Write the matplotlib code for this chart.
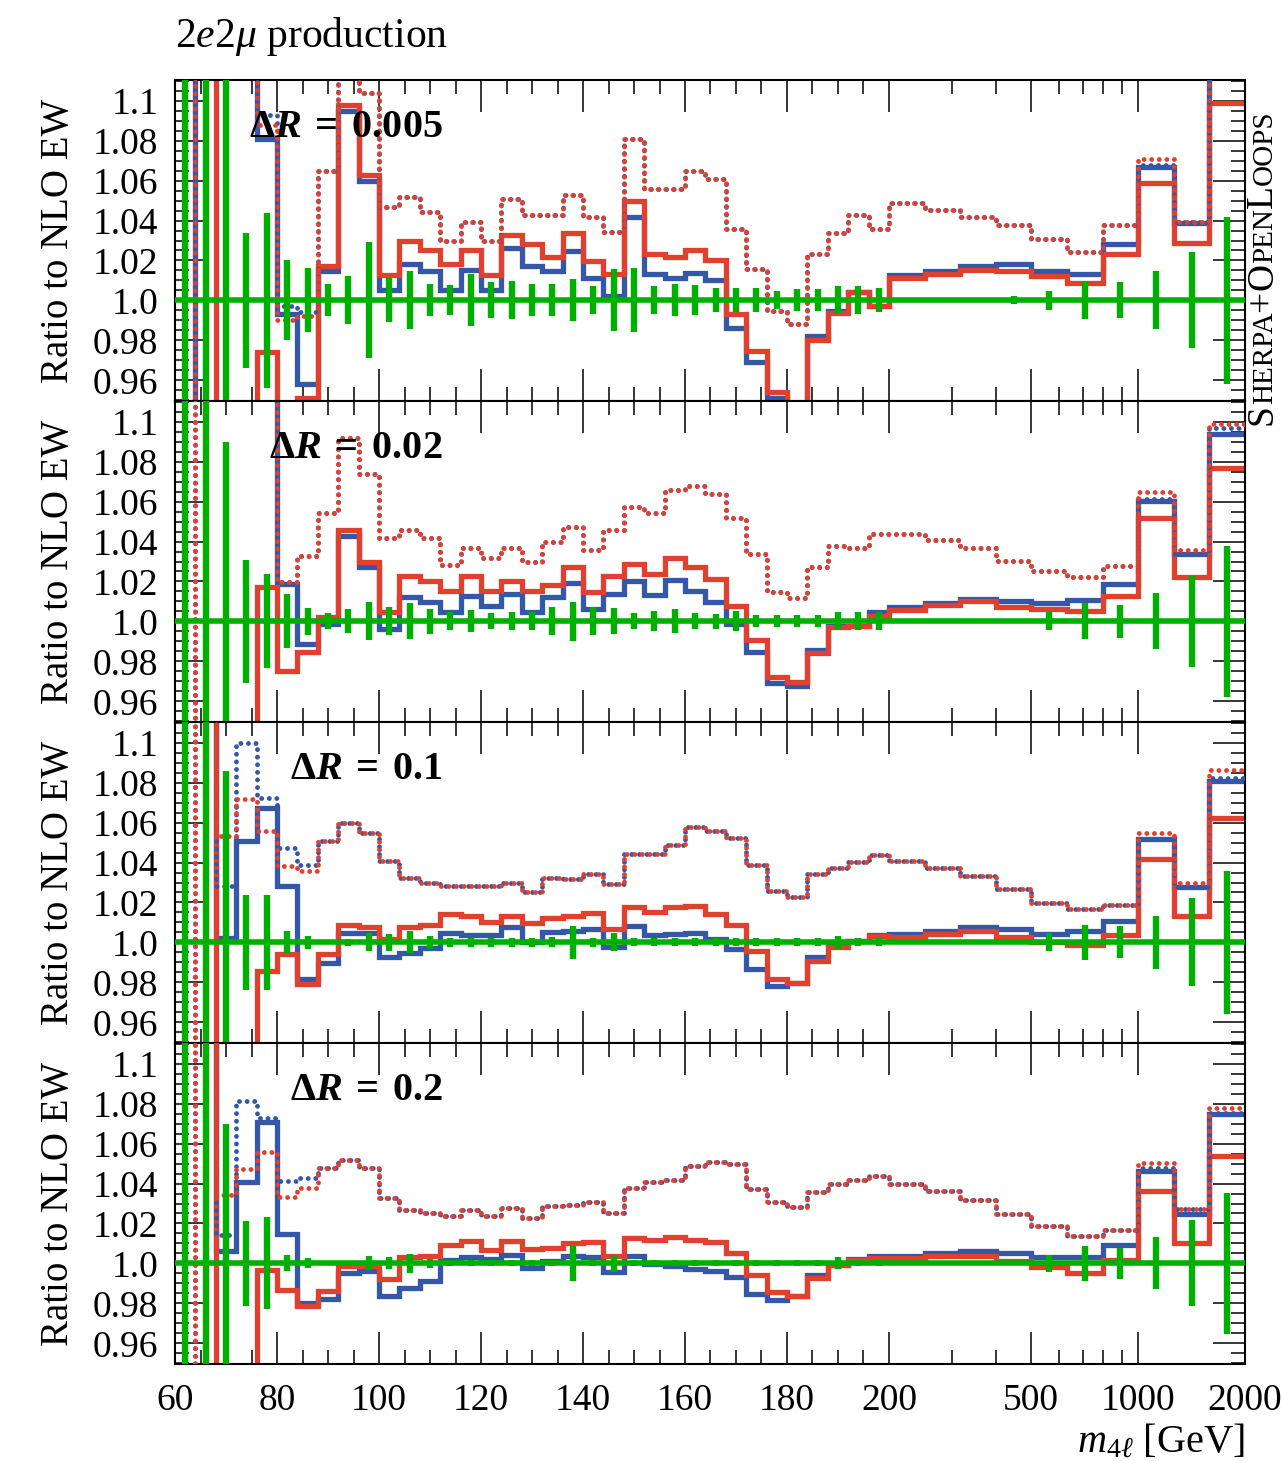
import numpy as np
import matplotlib
matplotlib.use("Agg")
import matplotlib.pyplot as plt
from matplotlib.ticker import FixedLocator, FixedFormatter, MultipleLocator, NullFormatter

plt.rcParams['font.family'] = ['Liberation Serif', 'DejaVu Serif']
plt.rcParams['mathtext.fontset'] = 'custom'
plt.rcParams['mathtext.rm'] = 'Liberation Serif'
plt.rcParams['mathtext.it'] = 'Liberation Serif:italic'
plt.rcParams['mathtext.bf'] = 'Liberation Serif:bold'
plt.rcParams['mathtext.bfit'] = 'Liberation Serif:italic:bold'

# bin edges: 4 GeV bins up to 200, then 10 log bins up to 2000
edges = np.concatenate([np.arange(60, 200, 4), 200 * 10 ** (np.arange(0, 11) / 10)])

labels = [r"$\mathbf{\Delta}\mathbfit{R}\;\mathbf{=}\;\mathbf{0.005}$",
          r"$\mathbf{\Delta}\mathbfit{R}\;\mathbf{=}\;\mathbf{0.02}$",
          r"$\mathbf{\Delta}\mathbfit{R}\;\mathbf{=}\;\mathbf{0.1}$",
          r"$\mathbf{\Delta}\mathbfit{R}\;\mathbf{=}\;\mathbf{0.2}$"]

# ---- DeltaR = 0.005
blue1 = [0.7, 1.3, 1.3, 1.3, 1.081, 0.993, 0.958, 1.0145, 1.095, 1.060, 1.005, 1.018, 1.0145, 1.005, 1.015,
         1.005, 1.026, 1.017, 1.0145, 1.0245, 1.011, 1.002, 1.042, 1.013, 1.011, 1.0137, 1.010, 0.986, 0.969,
         0.951, 0.93, 0.982, 0.9945, 1.004, 0.997,
         1.0128, 1.0145, 1.017, 1.018, 1.0145, 1.0133, 1.028, 1.067, 1.039, 1.3]
red1 = [1.3, 1.3, 0.7, 0.7, 0.974, 0.7, 0.951, 1.017, 1.098, 1.063, 1.0125, 1.030, 1.025, 1.018, 1.025,
        1.0125, 1.033, 1.028, 1.0215, 1.034, 1.0195, 1.013, 1.050, 1.023, 1.0215, 1.025, 1.020, 0.993, 0.9745,
        0.954, 0.93, 0.980, 0.9937, 1.004, 0.997,
        1.011, 1.013, 1.0153, 1.0145, 1.012, 1.0087, 1.023, 1.0587, 1.0287, 1.099]
dotb1 = [0.7, 1.3, 1.3, 1.3, 1.093, 0.997, 0.994, 1.065, 1.13, 1.104, 1.047, 1.052, 1.0445, 1.0295, 1.0395,
         1.0295, 1.051, 1.043, 1.043, 1.053, 1.042, 1.0345, 1.081, 1.0557, 1.056, 1.065, 1.0607, 1.0357, 1.0157,
         0.9945, 0.988, 1.023, 1.034, 1.043, 1.036,
         1.0487, 1.0453, 1.042, 1.038, 1.0307, 1.0242, 1.038, 1.068, 1.0395, 1.13]
dotr1 = [0.7, 1.3, 1.3, 1.3, 1.088, 0.990, 0.992, 1.065, 1.13, 1.104, 1.047, 1.052, 1.0445, 1.0295, 1.0395,
         1.0295, 1.051, 1.043, 1.043, 1.053, 1.042, 1.0345, 1.081, 1.0557, 1.056, 1.065, 1.0607, 1.0357, 1.0157,
         0.9945, 0.988, 1.023, 1.034, 1.043, 1.036,
         1.0487, 1.0453, 1.042, 1.038, 1.0307, 1.0242, 1.038, 1.0707, 1.0395, 1.13]
err1 = [0.5, 0.5, 0.3, 0.034, 0.044, 0.020, 0.016, 0.008, 0.012, 0.029, 0.011, 0.0145, 0.008, 0.0075, 0.013,
        0.009, 0.0095, 0.008, 0.008, 0.0105, 0.007, 0.0155, 0.016, 0.007, 0.008, 0.0075, 0.006, 0.006, 0.006,
        0.0045, 0.0055, 0.0055, 0.007, 0.007, 0.006,
        0.001, 0.001, 0.001, 0.002, 0.0048, 0.0095, 0.009, 0.0145, 0.024, 0.042]

# ---- DeltaR = 0.02
blue2 = [1.3, 1.3, 1.3, 1.3, 1.3, 1.0187, 0.9887, 0.9987, 1.0428, 1.027, 0.996, 1.012, 1.0095, 1.0045, 1.0128,
         1.0078, 1.0137, 1.0045, 1.012, 1.019, 1.006, 1.0137, 1.0203, 1.013, 1.0207, 1.0153, 1.0095, 0.9987,
         0.9845, 0.969, 0.9678, 0.9857, 0.9975, 0.9975, 1.0045,
         1.007, 1.009, 1.0112, 1.0103, 1.0092, 1.0108, 1.0187, 1.0603, 1.034, 1.0937]
red2 = [0.7, 0.7, 0.7, 0.7, 1.017, 0.9753, 0.9845, 1.0023, 1.046, 1.0295, 1.0045, 1.0228, 1.0203, 1.0153, 1.0228,
        1.0153, 1.0203, 1.0153, 1.0183, 1.0273, 1.0145, 1.0228, 1.0287, 1.0237, 1.032, 1.0273, 1.0212, 1.0078,
        0.9907, 0.9723, 0.9695, 0.984, 0.997, 0.9975, 1.0028,
        1.0057, 1.0083, 1.01, 1.007, 1.0062, 1.0053, 1.0125, 1.052, 1.0223, 1.077]
dotb2 = [0.7, 1.3, 1.3, 1.3, 1.3, 1.0195, 1.033, 1.0545, 1.092, 1.074, 1.042, 1.046, 1.042, 1.028, 1.037,
         1.032, 1.037, 1.030, 1.040, 1.0475, 1.036, 1.0457, 1.0573, 1.0545, 1.0658, 1.068, 1.0637, 1.052, 1.034,
         1.0145, 1.0117, 1.027, 1.0378, 1.037, 1.044,
         1.0437, 1.0408, 1.037, 1.0303, 1.0253, 1.022, 1.0275, 1.0612, 1.034, 1.097]
dotr2 = [0.7, 1.3, 1.3, 1.3, 1.3, 1.0195, 1.033, 1.0545, 1.092, 1.074, 1.042, 1.046, 1.042, 1.028, 1.037,
         1.032, 1.037, 1.030, 1.040, 1.0475, 1.036, 1.0457, 1.0573, 1.0545, 1.0658, 1.068, 1.0637, 1.052, 1.034,
         1.0145, 1.0117, 1.027, 1.0378, 1.037, 1.044,
         1.0437, 1.0408, 1.037, 1.0303, 1.0253, 1.022, 1.0275, 1.065, 1.0358, 1.099]
err2 = [0.5, 0.5, 0.09, 0.031, 0.0235, 0.0135, 0.0067, 0.004, 0.006, 0.0095, 0.007, 0.009, 0.0063, 0.0045, 0.0055,
        0.004, 0.0045, 0.0045, 0.007, 0.0097, 0.007, 0.0065, 0.004, 0.005, 0.006, 0.004, 0.0037, 0.005, 0.003,
        0.003, 0.003, 0.003, 0.0045, 0.0045, 0.0045,
        0.001, 0.001, 0.001, 0.001, 0.0045, 0.009, 0.0083, 0.014, 0.0228, 0.0378]

# ---- DeltaR = 0.1
blue3 = [1.3, 1.3, 1.002, 1.0508, 1.0675, 1.0283, 0.9817, 0.9895, 1.0045, 1.0045, 0.9925, 0.9945, 0.9972, 1.0045,
         1.0038, 1.0038, 1.0075, 1.0, 1.005, 1.0055, 1.0067, 0.9975, 1.0083, 1.0038, 1.0042, 1.0047, 1.0017,
         0.9967, 0.9867, 0.9783, 0.9795, 0.9928, 0.9988, 1.0008, 1.0038,
         1.0042, 1.0058, 1.0075, 1.0067, 1.0042, 1.0055, 1.0108, 1.0517, 1.0275, 1.0808]
red3 = [1.3, 1.3, 0.7, 0.7, 0.9858, 0.9942, 0.9792, 0.9942, 1.0088, 1.0075, 1.0017, 1.0075, 1.0088, 1.0142, 1.013,
        1.01, 1.0133, 1.0095, 1.0122, 1.0133, 1.0145, 1.0067, 1.0175, 1.015, 1.0175, 1.0183, 1.0142, 1.0088,
        0.9958, 0.9817, 0.9795, 0.9908, 0.9975, 1.0005, 1.0033,
        1.0028, 1.0042, 1.0055, 1.0028, 1.0, 0.9988, 1.0038, 1.0417, 1.0133, 1.0622]
dotb3 = [0.7, 1.3, 1.0283, 1.10, 1.0725, 1.0475, 1.039, 1.051, 1.06, 1.055, 1.041, 1.0325, 1.0295, 1.028, 1.028,
         1.028, 1.03, 1.025, 1.0325, 1.0317, 1.0345, 1.0292, 1.0442, 1.0445, 1.0488, 1.0578, 1.0558, 1.0522,
         1.0388, 1.0258, 1.0228, 1.0345, 1.0375, 1.0405, 1.0438,
         1.0408, 1.0372, 1.0333, 1.0267, 1.0197, 1.0167, 1.0188, 1.0517, 1.0278, 1.0825]
dotr3 = [0.7, 1.3, 1.0533, 1.0717, 1.0558, 1.0383, 1.0358, 1.051, 1.06, 1.055, 1.041, 1.0325, 1.0295, 1.028, 1.028,
         1.028, 1.03, 1.025, 1.0325, 1.0317, 1.0345, 1.0292, 1.0442, 1.0445, 1.0488, 1.0578, 1.0558, 1.0522,
         1.0388, 1.0258, 1.0228, 1.0345, 1.0375, 1.0405, 1.0438,
         1.0408, 1.0372, 1.0333, 1.0267, 1.0197, 1.0167, 1.0188, 1.055, 1.0295, 1.0862]
err3 = [0.5, 0.5, 0.086, 0.0236, 0.0236, 0.0055, 0.0033, 0.001, 0.0017, 0.0045, 0.0043, 0.0055, 0.0033, 0.0023,
        0.0022, 0.0022, 0.0022, 0.0022, 0.0025, 0.0083, 0.0022, 0.0045, 0.002, 0.002, 0.002, 0.002, 0.002, 0.002,
        0.002, 0.002, 0.002, 0.002, 0.0033, 0.002, 0.002,
        0.001, 0.001, 0.001, 0.001, 0.0045, 0.0087, 0.008, 0.0133, 0.022, 0.036]

# ---- DeltaR = 0.2
blue4 = [1.3, 1.3, 1.0063, 1.041, 1.0707, 1.0147, 0.9802, 0.9823, 0.9952, 0.996, 0.9835, 0.9877, 0.991, 1.0018,
         1.003, 1.0023, 1.0043, 0.9975, 1.0013, 1.0035, 1.003, 0.9957, 1.0035, 0.9997, 0.9985, 0.9972, 0.9963,
         0.993, 0.9847, 0.9815, 0.9835, 0.994, 0.999, 1.0023, 1.0035,
         1.0035, 1.0052, 1.0063, 1.0052, 1.003, 1.003, 1.009, 1.0463, 1.0247, 1.0747]
red4 = [1.3, 1.3, 0.7, 0.7, 0.9968, 0.9868, 0.9785, 0.986, 0.9985, 0.9985, 0.9923, 1.003, 1.0035, 1.0093, 1.0113,
        1.0068, 1.011, 1.007, 1.0077, 1.0102, 1.0107, 1.0035, 1.0127, 1.0118, 1.013, 1.0118, 1.0107, 1.0052,
        0.9943, 0.9857, 0.9835, 0.9927, 0.9993, 1.0018, 1.0027,
        1.0027, 1.0035, 1.0035, 1.001, 0.998, 0.9952, 1.0015, 1.0363, 1.0102, 1.054]
dotb4 = [0.7, 1.3, 1.0143, 1.0813, 1.0727, 1.0413, 1.0427, 1.0477, 1.0518, 1.048, 1.0327, 1.0268, 1.0252, 1.0235,
         1.0268, 1.0235, 1.0277, 1.0227, 1.0285, 1.029, 1.0307, 1.0252, 1.038, 1.0407, 1.0418, 1.0488, 1.051,
         1.0497, 1.0372, 1.031, 1.0282, 1.036, 1.0397, 1.0418, 1.0438,
         1.0398, 1.0363, 1.0318, 1.0247, 1.0185, 1.0135, 1.0168, 1.0477, 1.0273, 1.0752]
dotr4 = [0.7, 1.3, 1.0343, 1.0473, 1.0557, 1.0335, 1.038, 1.0477, 1.0518, 1.048, 1.0327, 1.0268, 1.0252, 1.0235,
         1.0268, 1.0235, 1.0277, 1.0227, 1.0285, 1.029, 1.0307, 1.0252, 1.038, 1.0407, 1.0418, 1.0488, 1.051,
         1.0497, 1.0372, 1.031, 1.0282, 1.036, 1.0397, 1.0418, 1.0438,
         1.0398, 1.0363, 1.0318, 1.0247, 1.0185, 1.0135, 1.0168, 1.0502, 1.0273, 1.078]
err4 = [0.5, 0.5, 0.07, 0.0213, 0.023, 0.004, 0.0025, 0.001, 0.001, 0.0035, 0.003, 0.0048, 0.0023, 0.0015, 0.0015,
        0.0015, 0.0015, 0.0015, 0.0015, 0.0086, 0.0015, 0.0043, 0.0015, 0.0015, 0.0015, 0.0015, 0.0015, 0.0015,
        0.0015, 0.0015, 0.0015, 0.0015, 0.003, 0.0015, 0.0015,
        0.001, 0.001, 0.001, 0.001, 0.0043, 0.0086, 0.0078, 0.013, 0.0215, 0.0352]

panels = [(blue1, red1, dotb1, dotr1, err1), (blue2, red2, dotb2, dotr2, err2),
          (blue3, red3, dotb3, dotr3, err3), (blue4, red4, dotb4, dotr4, err4)]

blue = '#3557a7'
red = '#e0412f'
green = '#00b000'

# linear up to 200 GeV, logarithmic above
K = 356 / 5.1
def fwd(x):
    x = np.asarray(x, float)
    return np.where(x <= 200, x, 200 + K * np.log10(np.maximum(x, 1e-9) / 200.))
def inv(y):
    y = np.asarray(y, float)
    return np.where(y <= 200, y, 200 * 10 ** ((np.minimum(y, 1e4) - 200) / K))

centers = inv((fwd(edges[:-1]) + fwd(edges[1:])) / 2)

W, H = 1281, 1461
fig = plt.figure(figsize=(W / 100, H / 100), dpi=100)

xmaj = [60, 80, 100, 120, 140, 160, 180, 200, 500, 1000, 2000]
xmin = [x for x in range(65, 200, 5) if x % 20 != 0] + [300, 400, 600, 700, 800, 900]
yticks = [0.96, 0.98, 1.0, 1.02, 1.04, 1.06, 1.08, 1.1]
ylabs = ["0.96", "0.98", "1.0", "1.02", "1.04", "1.06", "1.08", "1.1"]

for i, (b, r, db, dr, e) in enumerate(panels):
    top = 80 + 321 * i
    ax = fig.add_axes([175 / W, 1 - (top + 321) / H, 1070 / W, 321 / H])
    ax.set_xscale('function', functions=(fwd, inv))
    ax.set_xlim(60, 2000)
    ax.set_ylim(0.9497, 1.1103)

    ax.stairs(b, edges, baseline=None, color=blue, lw=3.8, zorder=2)
    ax.stairs(r, edges, baseline=None, color=red, lw=3.8, zorder=2.1)
    # dotted histograms as step lines with round dots
    ax.plot(edges, list(db) + [db[-1]], drawstyle='steps-post', color=blue, lw=3.5,
            dashes=(0.01, 1.55), dash_capstyle='round', zorder=3)
    ax.plot(edges, list(dr) + [dr[-1]], drawstyle='steps-post', color=red, lw=3.5,
            dashes=(0.01, 1.55), dash_capstyle='round', zorder=3.1)
    ax.stairs(np.ones(len(e)), edges, baseline=None, color=green, lw=4, zorder=4)
    ax.errorbar(centers, np.ones(len(e)), yerr=e, fmt='none', ecolor=green, elinewidth=4.6,
                capsize=0, zorder=4)

    ax.xaxis.set_major_locator(FixedLocator(xmaj))
    ax.xaxis.set_minor_locator(FixedLocator(xmin))
    ax.xaxis.set_minor_formatter(NullFormatter())
    ax.yaxis.set_major_locator(FixedLocator(yticks))
    ax.yaxis.set_major_formatter(FixedFormatter(ylabs))
    ax.yaxis.set_minor_locator(MultipleLocator(0.005))
    ax.tick_params(which='both', direction='in', top=True, right=True, width=1.1, labelsize=27)
    ax.tick_params(which='major', length=23)
    ax.tick_params(which='minor', length=10)
    ax.tick_params(axis='y', pad=12)
    if i < 3:
        ax.tick_params(axis='x', labelbottom=False)
    else:
        ax.set_xticklabels([str(x) for x in xmaj])
        ax.tick_params(axis='x', pad=14)
    for s in ax.spines.values():
        s.set_linewidth(1.5)

    ax.set_ylabel("Ratio to NLO EW", fontsize=28)
    ax.yaxis.set_label_coords(-0.092, 0.5)
    ax.text(0.2505, 0.853, labels[i], transform=ax.transAxes, ha='right', va='center',
            fontsize=29, zorder=6)

fig.text(175 / W, 1 - 37 / H, r"2$e$2$\mu$ production", ha='left', va='center', fontsize=30)
fig.text(1245 / W, 1 - 1442 / H, r"$m_{4\ell}$ [GeV]", ha='right', va='center', fontsize=29)

# small caps "Sherpa+OpenLoops" along the right edge
rend = fig.canvas.get_renderer()
pieces = [("S", 27), ("HERPA", 21), ("+", 27), ("O", 27), ("PEN", 21), ("L", 27), ("OOPS", 21)]
ypos = 425
for s, fs in pieces:
    t = fig.text(1272 / W, 1 - ypos / H, s, fontsize=fs, rotation=90, rotation_mode='anchor',
                 ha='left', va='baseline')
    w, h, d = rend.get_text_width_height_descent(s, t.get_fontproperties(), ismath=False)
    ypos -= w

fig.savefig("out.png", dpi=100)
